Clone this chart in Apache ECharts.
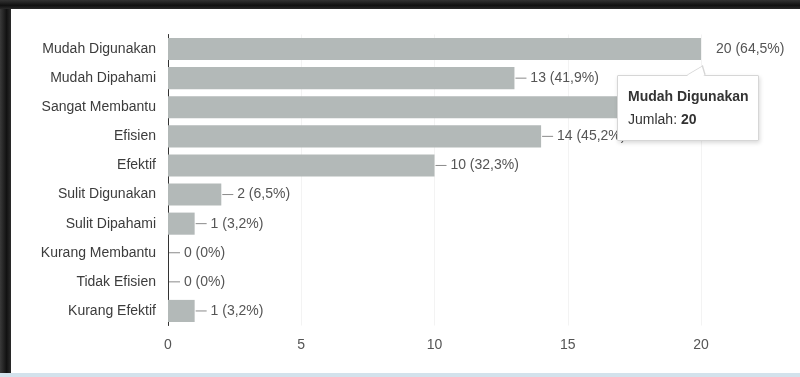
<!DOCTYPE html>
<html>
<head>
<meta charset="utf-8">
<script src="https://cdn.jsdelivr.net/npm/echarts@6/dist/echarts.min.js"></script>
<style>
  html, body { margin: 0; padding: 0; background: #fff; }
  #wrap { position: relative; width: 800px; height: 377px; overflow: hidden; }
  #chart { position: absolute; left: 0; top: 0; width: 800px; height: 377px; }
  .frame { position: absolute; pointer-events: none; z-index: 20; }
  #frame-left { left: 0; top: 0; width: 11px; height: 377px; background: linear-gradient(to right, #3a3a3a, #111 60%, #2b2b2b); }
  #frame-top { left: 0; top: 0; width: 800px; height: 9px; background: linear-gradient(to bottom, #333, #111 60%, #2a2a2a); }
  #frame-bottom { left: 0; top: 373px; width: 800px; height: 4px; background: #d3e2ec; }
</style>
</head>
<body>
<div id="wrap">
  <div id="chart"></div>
  <div class="frame" id="frame-left"></div>
  <div class="frame" id="frame-top"></div>
  <div class="frame" id="frame-bottom"></div>
</div>
<script>
const categories = [
  'Mudah Digunakan', 'Mudah Dipahami', 'Sangat Membantu', 'Efisien', 'Efektif',
  'Sulit Digunakan', 'Sulit Dipahami', 'Kurang Membantu', 'Tidak Efisien', 'Kurang Efektif'
]
const counts = [20, 13, 18, 14, 10, 2, 1, 0, 0, 1]
const percents = ['64,5%', '41,9%', '58,1%', '45,2%', '32,3%', '6,5%', '3,2%', '0%', '0%', '3,2%']
const xTicks = [0, 5, 10, 15, 20]

const chart = echarts.init(document.getElementById('chart'))

// first bar has its label further out and no leader line
const barData = counts.map((v, i) => {
  if (i === 0) {
    return { value: v, label: { distance: 15, formatter: '{t|' + v + ' (' + percents[i] + ')}' } }
  }
  return v
})

chart.setOption({
  animation: false,
  backgroundColor: '#ffffff',
  textStyle: { fontFamily: 'Liberation Sans, Arial, sans-serif' },
  grid: { left: 168, right: 99, top: 34.5, bottom: 51.5 },
  tooltip: {
    trigger: 'item',
    triggerOn: 'none',
    alwaysShowContent: true,
    transitionDuration: 0,
    position: [617, 75],
    backgroundColor: '#ffffff',
    borderColor: '#d6d6d6',
    borderWidth: 1,
    padding: [9, 10, 9, 10],
    extraCssText: 'box-shadow: 1px 2px 4px rgba(0,0,0,0.15); border-radius: 1px; width: 120px; overflow: visible;',
    formatter: (p) => {
      return '<div style="position:relative;font-family:Liberation Sans,Arial,sans-serif;font-size:14px;line-height:23px;color:#333;">' +
        '<div style="position:absolute;left:62px;top:-17px;width:12px;height:12px;background:#fff;border-left:1px solid #d6d6d6;border-top:1px solid #d6d6d6;transform:skewX(-35deg) rotate(45deg);"></div>' +
        '<b>' + p.name + '</b><br>Jumlah: <b>' + p.value + '</b></div>'
    }
  },
  xAxis: {
    type: 'value',
    min: xTicks[0],
    max: xTicks[xTicks.length - 1],
    interval: 5,
    axisLine: { show: false },
    axisTick: { show: false },
    splitLine: { show: true, lineStyle: { color: '#f3f3f3' } },
    axisLabel: { color: '#555', fontSize: 14, margin: 13 }
  },
  yAxis: {
    type: 'category',
    inverse: true,
    data: categories,
    axisLine: { show: true, lineStyle: { color: '#333', width: 1 } },
    axisTick: { show: false },
    axisLabel: { color: '#3c3c3c', fontSize: 14, margin: 12 }
  },
  series: [
    {
      type: 'bar',
      data: barData,
      barCategoryGap: '24%',
      itemStyle: { color: '#b3b9b8' },
      label: {
        show: true,
        position: 'right',
        distance: 1,
        color: '#555',
        fontSize: 14,
        formatter: (p) => '{l|}{t| ' + p.value + ' (' + percents[p.dataIndex] + ')}',
        rich: {
          l: { width: 11, height: 1, backgroundColor: '#8a8a8a' },
          t: { color: '#555', fontSize: 14 }
        }
      }
    }
  ]
})

chart.dispatchAction({ type: 'showTip', seriesIndex: 0, dataIndex: 0 })
</script>
</body>
</html>
